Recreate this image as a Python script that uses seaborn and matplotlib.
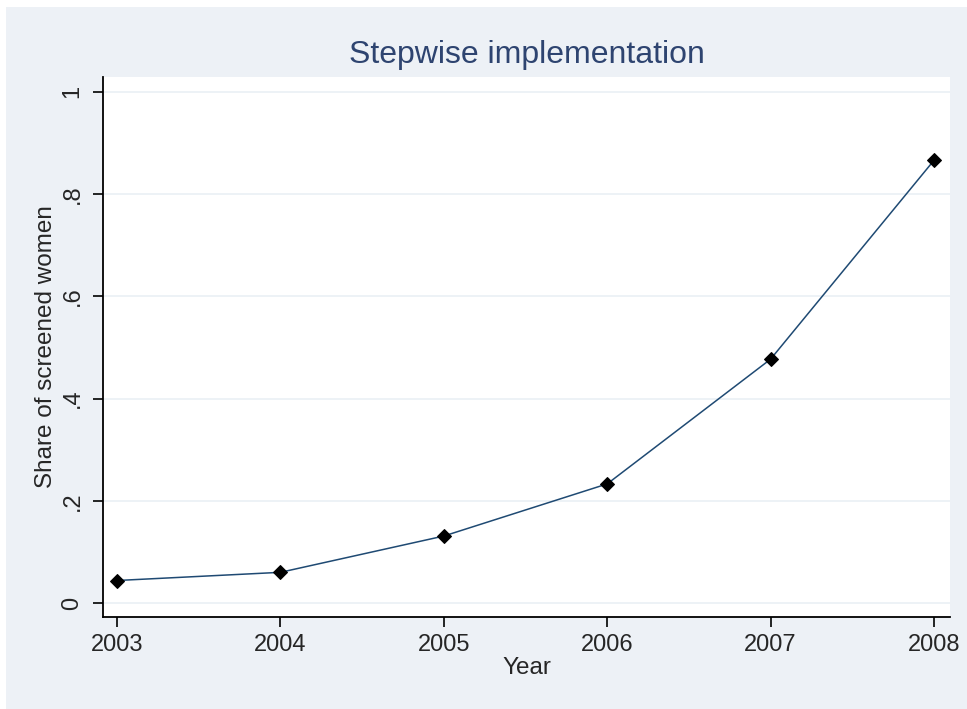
import numpy as np
import pandas as pd
import matplotlib
matplotlib.use("Agg")
import matplotlib.pyplot as plt
import seaborn as sns
from matplotlib.patches import Rectangle

# data
years = [2003, 2004, 2005, 2006, 2007, 2008]
share = [0.044, 0.060, 0.131, 0.233, 0.477, 0.866]
ytick_vals = [0, 0.2, 0.4, 0.6, 0.8, 1.0]
ytick_labels = ["0", ".2", ".4", ".6", ".8", "1"]

df = pd.DataFrame({"Year": years, "share": share})

sns.set_style("white")
plt.rcParams["font.family"] = ["Liberation Sans", "DejaVu Sans"]

bg = "#edf1f6"
navy = "#1f4a73"

fig = plt.figure(figsize=(9.67, 7.09), dpi=100, facecolor=bg)
# thin white strip along the top and left edges
fig.patches.append(Rectangle((0, 1 - 7 / 709), 1, 7 / 709, transform=fig.transFigure,
                             facecolor="white", edgecolor="none", zorder=-10))
fig.patches.append(Rectangle((0, 0), 6 / 967, 1, transform=fig.transFigure,
                             facecolor="white", edgecolor="none", zorder=-10))

ax = fig.add_axes([103 / 967, 1 - 617 / 709, (950 - 103) / 967, (617 - 77) / 709])
ax.set_facecolor("white")

for v in ytick_vals:
    ax.axhline(v, color="#eaf0f5", lw=1.2, zorder=0)

sns.lineplot(data=df, x="Year", y="share", ax=ax, color=navy, lw=1.1,
             marker="D", markersize=7, markerfacecolor="black",
             markeredgecolor="black", zorder=3)

ax.set_xlim(2002.914, 2008.098)
ax.set_ylim(-0.0274, 1.029)
ax.set_xticks(years)
ax.set_xticklabels([str(y) for y in years], fontsize=17)
ax.set_yticks(ytick_vals)
ax.set_yticklabels(ytick_labels, fontsize=17, rotation=90, va="center")

ax.tick_params(axis="both", direction="out", length=7, width=1.2, color="black")
ax.tick_params(axis="x", pad=5)
ax.tick_params(axis="y", pad=7)
ax.tick_params(axis="both", left=True, bottom=True)
for s in ["top", "right"]:
    ax.spines[s].set_visible(False)
for s in ["left", "bottom"]:
    ax.spines[s].set_color("black")
    ax.spines[s].set_linewidth(1.3)

ax.set_xlabel("Year", fontsize=17.5)
ax.xaxis.set_label_coords(0.5, -0.074)
ax.set_ylabel("Share of screened women", fontsize=17.5)
ax.yaxis.set_label_coords(-0.054, 0.5)
ax.set_title("Stepwise implementation", fontsize=23, color="#2e4470", pad=10)

fig.savefig("out.png", dpi=100, facecolor=fig.get_facecolor())
